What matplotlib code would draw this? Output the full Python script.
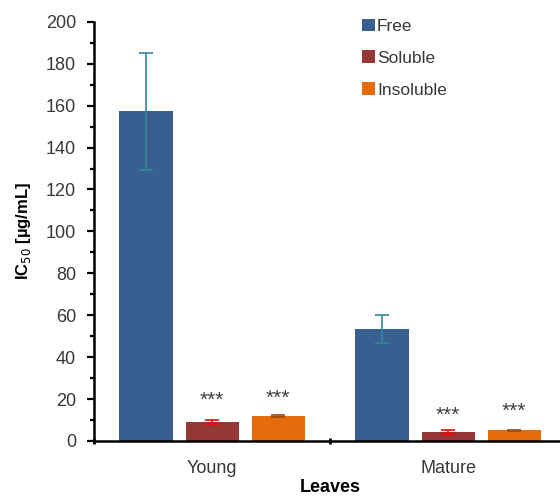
import numpy as np
import matplotlib.pyplot as plt
from matplotlib.ticker import MultipleLocator

plt.rcParams['font.family'] = ['Liberation Sans', 'DejaVu Sans']

# data
groups = ['Young', 'Mature']
series = ['Free', 'Soluble', 'Insoluble']
free = [157.3, 53.6]
free_err = [27.8, 6.7]
soluble = [8.9, 4.1]
soluble_err = [1.0, 1.0]
insoluble = [11.9, 5.1]
insoluble_err = [0.7, 0.3]
star_y = [[19.5, 12.0], [20.5, 14.0]]  # where the *** sit (soluble, insoluble)

bar_colors = ['#385f90', '#953735', '#e46c0a']
err_colors = ['#31889c', '#ff0000', '#9c4a10']

fig = plt.figure(figsize=(5.6, 4.96), dpi=100)
ax = fig.add_axes([0.168, 0.111, 0.843, 0.845])

x = np.arange(len(groups))
offs = [-0.28, 0.0, 0.28]
w = 0.225
vals = [free, soluble, insoluble]
errs = [free_err, soluble_err, insoluble_err]
for i in range(3):
    ax.bar(x + offs[i], vals[i], width=w, color=bar_colors[i], label=series[i],
           yerr=errs[i], ecolor=err_colors[i], capsize=5,
           error_kw=dict(elinewidth=1.2, capthick=1.2), zorder=2)

for j, k in enumerate([1, 2]):
    for g in range(len(groups)):
        ax.text(x[g] + offs[k], star_y[j][g], '***', ha='center', va='center',
                fontsize=15, color='#404040')

ax.set_xlim(-0.5, 1.5)
ax.set_ylim(0, 200)
ax.yaxis.set_major_locator(MultipleLocator(20))
ax.yaxis.set_minor_locator(MultipleLocator(10))
ax.set_xticks([-0.5, 0.5, 1.5], minor=True)
ax.set_xticks(x)
ax.set_xticklabels(groups)
ax.tick_params(axis='x', which='major', length=0, pad=14, labelsize=13, labelcolor='#383838')
ax.tick_params(axis='x', which='minor', length=5, width=2, direction='inout')
ax.tick_params(axis='y', which='major', length=5, width=1.6, pad=8, labelsize=13, labelcolor='#383838')
ax.tick_params(axis='y', which='minor', length=3, width=1.6)

for s in ['top', 'right']:
    ax.spines[s].set_visible(False)
for s in ['left', 'bottom']:
    ax.spines[s].set_linewidth(1.8)

ax.set_ylabel('IC$_{50}$ [µg/mL]', fontsize=12, fontweight='bold', labelpad=9)
ax.set_xlabel('Leaves', fontsize=13, fontweight='bold', labelpad=1)

ax.legend(loc='upper left', bbox_to_anchor=(0.535, 1.045), frameon=False,
          fontsize=12.5, handlelength=0.75, handleheight=0.75, handletextpad=0.1,
          labelspacing=0.95, labelcolor='#383838')

plt.savefig('out.png', dpi=100)
